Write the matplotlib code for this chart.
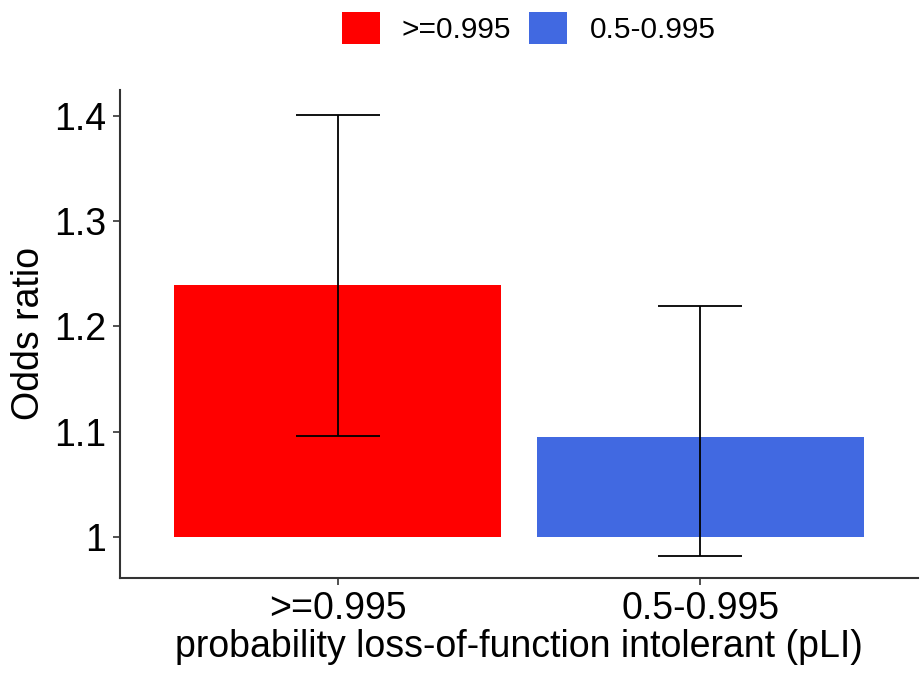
import matplotlib
matplotlib.use("Agg")
import matplotlib.pyplot as plt
from matplotlib.patches import Patch

categories = [">=0.995", "0.5-0.995"]
odds_ratio = [1.239, 1.095]
ci_low = [1.096, 0.982]
ci_high = [1.401, 1.219]
colors = ["#FF0000", "#4169E1"]
yticks = [1.0, 1.1, 1.2, 1.3, 1.4]
ytick_labels = ["1", "1.1", "1.2", "1.3", "1.4"]

plt.rcParams['font.family'] = ['Liberation Sans', 'DejaVu Sans']

fig = plt.figure(figsize=(9.21, 6.75), dpi=100)
ax = fig.add_axes([0.1303, 0.1437, 0.8664, 0.723])

x = [1, 2]
base = 1.0
for xi, v, c in zip(x, odds_ratio, colors):
    ax.bar(xi, v - base, bottom=base, width=0.9, color=c, zorder=1)
for xi, lo, hi in zip(x, ci_low, ci_high):
    ax.errorbar(xi, (lo + hi) / 2, yerr=[[(hi - lo) / 2], [(hi - lo) / 2]],
                fmt='none', ecolor='black', elinewidth=1.3, capsize=30, capthick=1.3, zorder=2)

ax.set_xlim(0.4, 2.6)
ax.set_ylim(0.961, 1.4245)
ax.set_xticks(x)
ax.set_xticklabels(categories, fontsize=27)
ax.set_yticks(yticks)
ax.set_yticklabels(ytick_labels, fontsize=27)
ax.tick_params(axis='both', length=5, width=1.2, color='#333333', labelcolor='black')
ax.tick_params(axis='y', pad=5)
ax.tick_params(axis='x', pad=4)
for s in ['top', 'right']:
    ax.spines[s].set_visible(False)
for s in ['left', 'bottom']:
    ax.spines[s].set_linewidth(1.5)
    ax.spines[s].set_color('#333333')
ax.set_ylabel("Odds ratio", fontsize=27, labelpad=5)
ax.set_xlabel("probability loss-of-function intolerant (pLI)", fontsize=27, labelpad=2)

handles = [Patch(facecolor=c, edgecolor='none', label=l) for c, l in zip(colors, categories)]
fig.legend(handles=handles, loc='center', bbox_to_anchor=(0.574, 0.958), ncol=2,
           frameon=False, fontsize=21.5, handlelength=1.27, handleheight=1.27,
           handletextpad=0.74, columnspacing=0.6)

fig.savefig("out.png", dpi=100)
